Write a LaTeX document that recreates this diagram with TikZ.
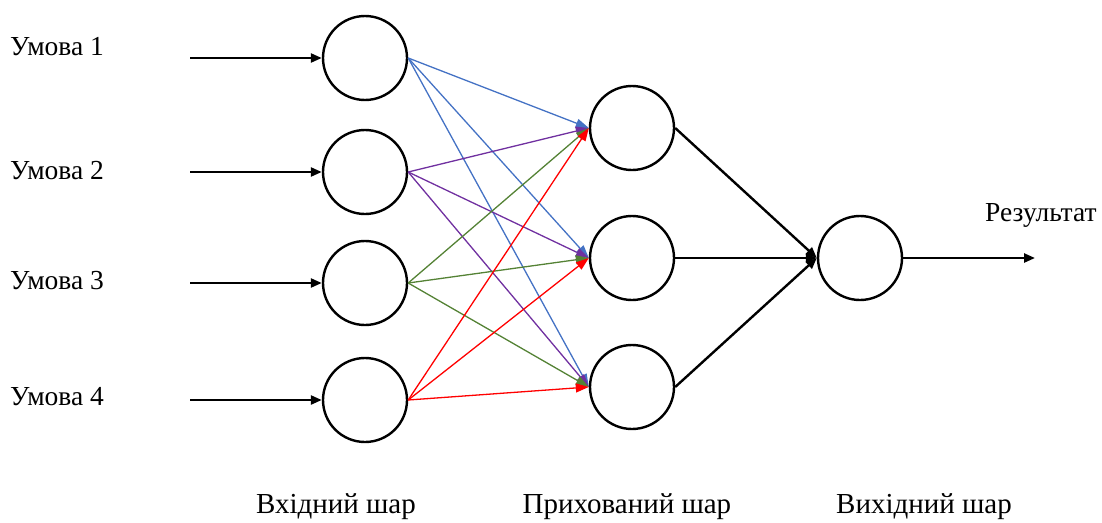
\documentclass[tikz,border=0pt]{standalone}
\usepackage{fontspec}
\setmainfont{Liberation Serif}
\usetikzlibrary{arrows.meta}
\definecolor{cblue}{RGB}{68,114,196}
\definecolor{cpurple}{RGB}{112,48,160}
\definecolor{cgreen}{RGB}{84,130,53}
\definecolor{cred}{RGB}{255,0,0}
\tikzset{
  neuron/.style={circle,draw=black,line width=2.4pt,minimum size=84pt,inner sep=0pt},
  lbl/.style={font=\fontsize{27.5}{32}\selectfont,inner sep=0pt},
  blbl/.style={font=\fontsize{29}{34}\selectfont,inner sep=0pt},
  blk/.style={line width=2.4pt,-{Triangle[length=11pt,width=9pt]}},
  wgt/.style={line width=1.3pt,-{Triangle[length=13pt,width=9pt]}},
}
\begin{document}
\begin{tikzpicture}[x=1pt,y=-1pt]
\useasboundingbox (0,0) rectangle (1102,522);
% input nodes
\node[neuron] (i1) at (365,58) {};
\node[neuron] (i2) at (365,172) {};
\node[neuron] (i3) at (365,283) {};
\node[neuron] (i4) at (365,400) {};
% hidden nodes
\node[neuron] (h1) at (632,128) {};
\node[neuron] (h2) at (632,258) {};
\node[neuron] (h3) at (632,387) {};
% output node
\node[neuron] (o) at (860,258) {};
% labels
\node[lbl,anchor=west] (l1) at (10,47) {Умова 1};
\node[lbl,anchor=west] (l2) at (10,171) {Умова 2};
\node[lbl,anchor=west] (l3) at (10,281) {Умова 3};
\node[lbl,anchor=west] (l4) at (10,397) {Умова 4};
\node[lbl,anchor=west] (res) at (985,215) {Результат};
\node[blbl,anchor=base] (b1) at (336,513) {Вхідний шар};
\node[blbl,anchor=base] (b2) at (627,513) {Прихований шар};
\node[blbl,anchor=base] (b3) at (924,513) {Вихідний шар};
% input arrows
\coordinate (s1) at (190,58);
\coordinate (s2) at (190,172);
\coordinate (s3) at (190,283);
\coordinate (s4) at (190,400);
\draw[blk] (s1) -- (i1.west);
\draw[blk] (s2) -- (i2.west);
\draw[blk] (s3) -- (i3.west);
\draw[blk] (s4) -- (i4.west);
% weights
\foreach \h in {h1,h2,h3}{
  \draw[wgt,cblue] (i1.east) -- (\h.west);
}
\foreach \h in {h1,h2,h3}{
  \draw[wgt,cpurple] (i2.east) -- (\h.west);
}
\foreach \h in {h1,h2,h3}{
  \draw[wgt,cgreen] (i3.east) -- (\h.west);
}
\foreach \h in {h1,h2,h3}{
  \draw[wgt,cred] (i4.east) -- (\h.west);
}
% hidden to output
\draw[blk] (h1.east) -- (o.west);
\draw[blk] (h2.east) -- (o.west);
\draw[blk] (h3.east) -- (o.west);
% result
\coordinate (e) at (1035,258);
\draw[blk] (o.east) -- (e);
\end{tikzpicture}
\end{document}
